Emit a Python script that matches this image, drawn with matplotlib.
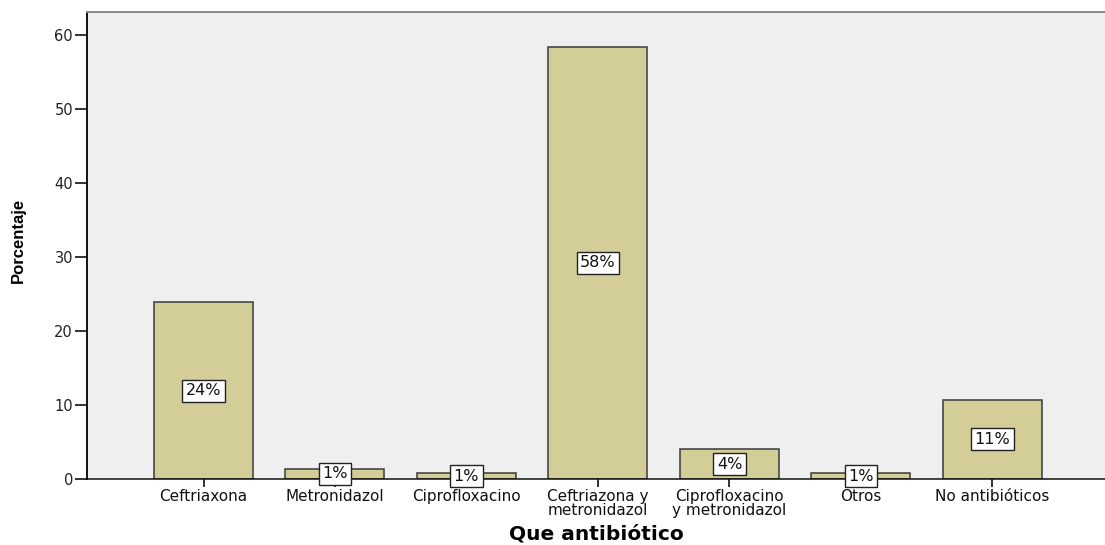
import matplotlib
matplotlib.use("Agg")
import matplotlib.pyplot as plt
import numpy as np

# Antibiotic usage, percentage of patients
categories = [
    "Ceftriaxona",
    "Metronidazol",
    "Ciprofloxacino",
    "Ceftriazona y\nmetronidazol",
    "Ciprofloxacino\ny metronidazol",
    "Otros",
    "No antibióticos",
]
percentages = [23.9, 1.4, 0.8, 58.4, 4.0, 0.8, 10.7]
y_ticks = [0, 10, 20, 30, 40, 50, 60]

W, H, DPI = 1105, 545, 100
fig = plt.figure(figsize=(W / DPI, H / DPI), dpi=DPI, facecolor="white")

left_px, right_px, top_px, bottom_px = 87, 1105, 12, 479
ax = fig.add_axes([left_px / W, (H - bottom_px) / H,
                   (right_px - left_px) / W, (bottom_px - top_px) / H])
ax.set_facecolor("#efefef")

x = np.arange(len(categories))
ax.bar(x, percentages, width=0.753, color="#d3ce97",
       edgecolor="#3a3a3a", linewidth=1.1, zorder=2)

# value boxes centred at half the bar height
for xi, v in zip(x, percentages):
    ax.text(xi, v / 2, f"{round(v):.0f}%", ha="center", va="center",
            fontsize=11.5, family="DejaVu Sans", color="#111111", zorder=5,
            bbox=dict(boxstyle="square,pad=0.22", facecolor="white",
                      edgecolor="#222222", linewidth=1.0))

ax.set_xlim(-0.886, 6.856)
ax.set_ylim(0, 63.1)

ax.set_yticks(y_ticks)
ax.set_yticklabels([str(t) for t in y_ticks], fontsize=10.5,
                   family="DejaVu Sans", color="#222222")
ax.set_xticks(x)
ax.set_xticklabels(categories, fontsize=11, family="DejaVu Sans",
                   color="#111111", linespacing=0.85)

ax.tick_params(axis="y", direction="out", length=9, width=1.3,
               color="#222222", pad=1)
ax.tick_params(axis="x", direction="out", length=5.5, width=1.3,
               color="#222222", pad=2)

ax.spines["left"].set_color("#111111")
ax.spines["left"].set_linewidth(1.4)
ax.spines["bottom"].set_color("#111111")
ax.spines["bottom"].set_linewidth(1.1)
ax.spines["bottom"].set_zorder(3)
ax.spines["top"].set_color("#888888")
ax.spines["top"].set_linewidth(1.4)
ax.spines["right"].set_visible(False)

# y-axis title placed in figure coordinates
fig.text(18 / W, 1 - 240 / H, "Porcentaje", rotation=90, ha="center",
         va="center", fontsize=12, fontweight="bold",
         family="Liberation Sans")
ax.set_xlabel("Que antibiótico", fontsize=14.5, fontweight="bold",
              family="DejaVu Sans", labelpad=5)

fig.savefig("out.png", dpi=DPI, facecolor="white")
